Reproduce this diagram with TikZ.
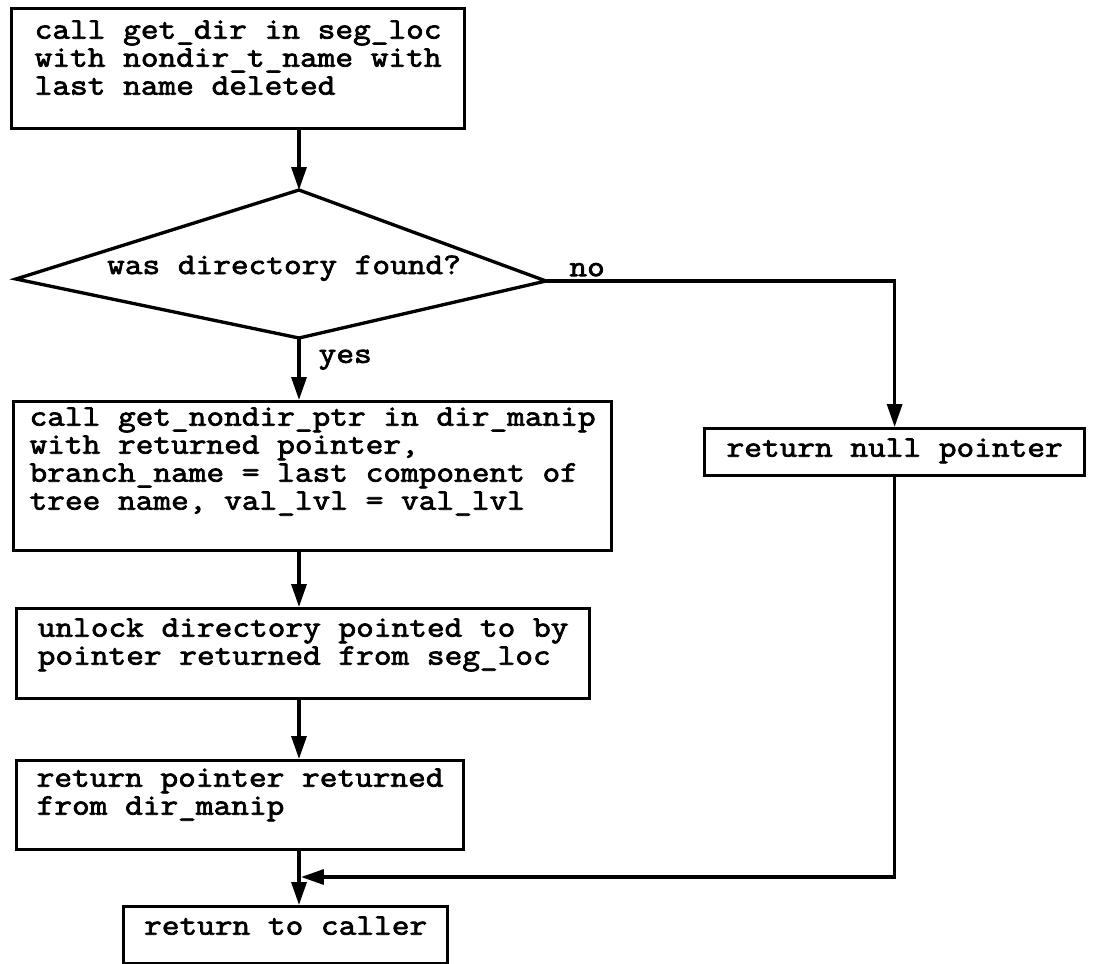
\documentclass[tikz,border=0pt]{standalone}
\usepackage{fontspec}
\newfontfamily\typer{Latin Modern Mono}[FakeBold=2.5, FakeStretch=1.15]
\usetikzlibrary{arrows.meta}
\newcommand\typesize{\fontsize{17pt}{15.94pt}\selectfont\lineskiplimit=-10pt\relax}
\tikzset{
  proc/.style={draw, anchor=north west, align=left, font=\typer\typesize, inner sep=0pt},
  tag/.style={font=\typer\typesize, inner sep=0pt},
}
\begin{document}
\begin{tikzpicture}[x=0.02cm, y=-0.02cm, line width=1.9pt, >={Triangle[length=0.46cm, width=0.3cm]}]
    \useasboundingbox (0,0) rectangle (1093,964);
    \coordinate (spine) at (299,0);

    % Look up the directory
    \node[proc, minimum width=9.06cm, text height=1.72cm, text depth=0.68cm] (getdir) at (10,7)
        {call get\_dir in seg\_loc\\with nondir\_t\_name with\\last name deleted};

    % Decision
    \coordinate (dtop) at (299,190);
    \coordinate (dleft) at (16,279);
    \coordinate (dright) at (546,281);
    \coordinate (dbot) at (299,338);
    \draw (dtop) -- (dright) -- (dbot) -- (dleft) -- cycle;
    \node[tag, anchor=base] (ask) at (284,274) {was directory found?};

    % Steps
    \node[proc, minimum width=11.96cm, text height=2.16cm, text depth=0.82cm] (nondir) at (12,400)
        {call get\_nondir\_ptr in dir\_manip\\with returned pointer,\\branch\_name = last component of\\tree name, val\_lvl = val\_lvl};
    \node[proc, minimum width=7.6cm, text height=0.56cm, text depth=0.38cm] (nullptr) at (703,427)
        {return null pointer};
    \node[proc, minimum width=11.46cm, text height=1.12cm, text depth=0.68cm] (unlock) at (15,607)
        {unlock directory pointed to by\\pointer returned from seg\_loc};
    \node[proc, minimum width=8.94cm, text height=1.08cm, text depth=0.7cm] (retptr) at (15,759)
        {return pointer returned\\from dir\_manip};
    \node[proc, minimum width=6.48cm, text height=0.56cm, text depth=0.58cm] (caller) at (122,905)
        {return to caller};

    % Flow
    \draw[->] (getdir.south -| spine) -- (dtop);
    \draw[->] (dbot) -- node[tag, pos=0.35, right=0.36cm] (yes) {yes} (nondir.north -| spine);
    \draw[->] (dright) -- node[tag, pos=0.118, above=0.06cm] (no) {no} (dright -| nullptr.north) -- (nullptr.north);
    \draw[->] (nondir.south -| spine) -- (unlock.north -| spine);
    \draw[->] (unlock.south -| spine) -- (retptr.north -| spine);
    \draw[->] (retptr.south -| spine) -- (caller.north -| spine);

    % Join
    \coordinate (merge) at (301,877);
    \draw[->] (nullptr.south) |- (merge);
\end{tikzpicture}
\end{document}
